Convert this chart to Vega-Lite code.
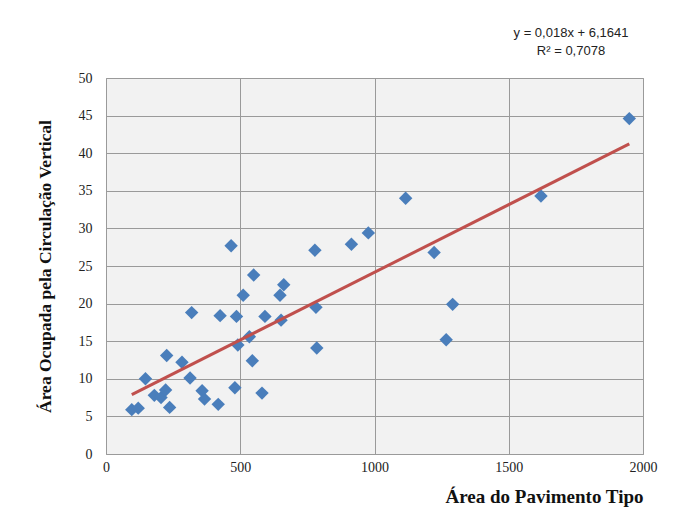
{
  "$schema": "https://vega.github.io/schema/vega-lite/v6.json",
  "autosize": "none",
  "width": 537,
  "height": 376,
  "padding": {"left": 106, "top": 78, "right": 32, "bottom": 63},
  "background": "white",
  "title": {
    "text": ["y = 0,018x + 6,1641", "R² = 0,7078"],
    "anchor": "end",
    "align": "center",
    "dx": -86,
    "offset": 13,
    "font": "Liberation Sans",
    "fontSize": 13,
    "fontWeight": "normal",
    "color": "#222222",
    "lineHeight": 18
  },
  "config": {
    "view": {"fill": "#f2f2f2", "stroke": "#9a9a9a", "strokeWidth": 1},
    "axis": {
      "grid": true,
      "gridColor": "#9a9a9a",
      "gridWidth": 1,
      "gridOpacity": 1,
      "domain": false,
      "ticks": false,
      "labelFont": "Liberation Serif",
      "labelFontSize": 14,
      "labelColor": "#222222",
      "titleFont": "Liberation Serif",
      "titleFontSize": 18,
      "titleFontWeight": "bold",
      "titleColor": "#111111"
    }
  },
  "datasets": {
    "pontos": [
      {"area": 96, "circ": 5.9},
      {"area": 120, "circ": 6.1},
      {"area": 147, "circ": 10.0},
      {"area": 180, "circ": 7.8},
      {"area": 205, "circ": 7.5},
      {"area": 222, "circ": 8.5},
      {"area": 226, "circ": 13.1},
      {"area": 237, "circ": 6.2},
      {"area": 283, "circ": 12.2},
      {"area": 313, "circ": 10.1},
      {"area": 319, "circ": 18.8},
      {"area": 358, "circ": 8.4},
      {"area": 367, "circ": 7.3},
      {"area": 418, "circ": 6.6},
      {"area": 425, "circ": 18.4},
      {"area": 466, "circ": 27.7},
      {"area": 480, "circ": 8.8},
      {"area": 486, "circ": 18.3},
      {"area": 491, "circ": 14.5},
      {"area": 511, "circ": 21.1},
      {"area": 534, "circ": 15.6},
      {"area": 545, "circ": 12.4},
      {"area": 550, "circ": 23.8},
      {"area": 581, "circ": 8.1},
      {"area": 592, "circ": 18.3},
      {"area": 648, "circ": 21.1},
      {"area": 652, "circ": 17.8},
      {"area": 662, "circ": 22.5},
      {"area": 778, "circ": 27.1},
      {"area": 782, "circ": 19.5},
      {"area": 785, "circ": 14.1},
      {"area": 914, "circ": 27.9},
      {"area": 977, "circ": 29.4},
      {"area": 1116, "circ": 34.0},
      {"area": 1222, "circ": 26.8},
      {"area": 1267, "circ": 15.2},
      {"area": 1291, "circ": 19.9},
      {"area": 1620, "circ": 34.3},
      {"area": 1949, "circ": 44.6}
    ],
    "tendencia": [
      {"area": 96, "circ": 7.892},
      {"area": 1949, "circ": 41.246}
    ]
  },
  "encoding": {
    "x": {
      "field": "area", "type": "quantitative",
      "scale": {"domain": [0, 2000], "nice": false},
      "axis": {"tickCount": 4, "format": "d", "title": "Área do Pavimento Tipo", "titleAnchor": "end", "titleFontSize": 19, "titlePadding": 13, "labelPadding": 6, "labelFlush": false}
    },
    "y": {
      "field": "circ", "type": "quantitative",
      "scale": {"domain": [0, 50], "nice": false},
      "axis": {"tickCount": 11, "labelOverlap": false, "format": "d", "title": "Área Ocupada pela Circulação Vertical", "titleFontSize": 17.5, "titlePadding": 24, "labelPadding": 14}
    }
  },
  "layer": [
    {
      "data": {"name": "pontos"},
      "mark": {"type": "point", "shape": "diamond", "filled": true, "size": 180, "color": "#4a7ebb", "opacity": 1}
    },
    {
      "data": {"name": "tendencia"},
      "mark": {"type": "line", "color": "#c0504d", "strokeWidth": 3}
    }
  ]
}
